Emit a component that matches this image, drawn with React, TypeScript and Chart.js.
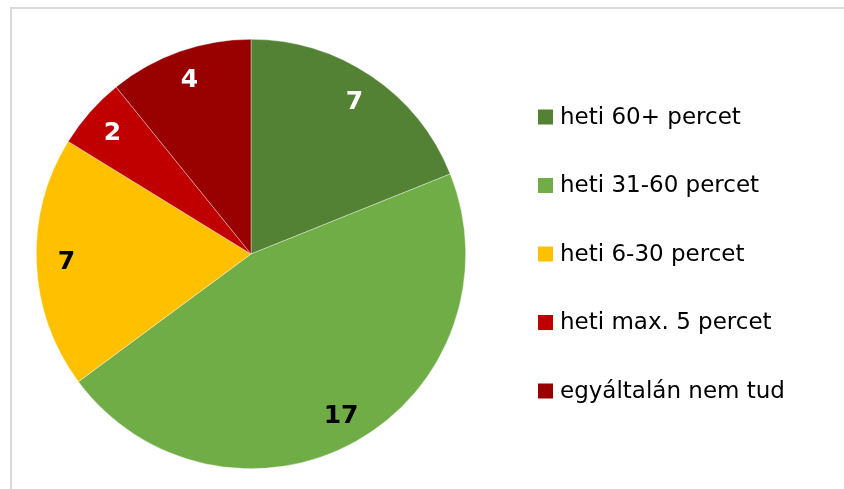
import React, { useEffect, useRef } from "react";
import { Chart, registerables } from "chart.js";

Chart.register(...registerables);

const categories = [
  "heti 60+ percet",
  "heti 31-60 percet",
  "heti 6-30 percet",
  "heti max. 5 percet",
  "egyáltalán nem tud",
];
const values = [7, 17, 7, 2, 4];
const colors = ["#548235", "#70AD47", "#FFC000", "#C00000", "#990000"];
const labelColors = ["#FFFFFF", "#000000", "#000000", "#FFFFFF", "#FFFFFF"];

const FONT = "'DejaVu Sans', Verdana, sans-serif";

const sliceLabels = {
  id: "sliceLabels",
  afterDatasetsDraw(chart: any) {
    const ctx = chart.ctx;
    const meta = chart.getDatasetMeta(0);
    ctx.save();
    ctx.font = `bold 25px ${FONT}`;
    ctx.textAlign = "center";
    ctx.textBaseline = "middle";
    meta.data.forEach((arc: any, i: number) => {
      const { x, y, startAngle, endAngle, outerRadius } = arc.getProps(
        ["x", "y", "startAngle", "endAngle", "outerRadius"],
        true
      );
      const mid = (startAngle + endAngle) / 2;
      const r = outerRadius * 0.86;
      ctx.fillStyle = labelColors[i];
      ctx.fillText(String(values[i]), x + Math.cos(mid) * r, y + Math.sin(mid) * r + 1);
    });
    ctx.restore();
  },
};

const sideLegend = {
  id: "sideLegend",
  afterDraw(chart: any) {
    const ctx = chart.ctx;
    const area = chart.chartArea;
    const x0 = 538;
    const rowGap = 68.5;
    const yCenter = (area.top + area.bottom) / 2;
    const n = categories.length;
    ctx.save();
    ctx.font = `23px ${FONT}`;
    ctx.textBaseline = "middle";
    ctx.textAlign = "left";
    categories.forEach((c, i) => {
      const cy = yCenter + (i - (n - 1) / 2) * rowGap;
      ctx.fillStyle = colors[i];
      ctx.fillRect(x0, cy - 7.5, 15, 15);
      ctx.fillStyle = "#000000";
      ctx.fillText(c, x0 + 22, cy + 1);
    });
    ctx.restore();
  },
};

export default function App() {
  const ref = useRef<HTMLCanvasElement | null>(null);
  useEffect(() => {
    const prev = document.body.style.margin;
    document.body.style.margin = "0";
    if (!ref.current) return;
    const chart = new Chart(ref.current, {
      type: "pie",
      data: {
        labels: categories,
        datasets: [
          {
            data: values,
            backgroundColor: colors,
            borderColor: "rgba(255,255,255,0.6)",
            borderWidth: 0.6,
          },
        ],
      },
      options: {
        animation: false,
        responsive: false,
        maintainAspectRatio: false,
        layout: { padding: { left: 36, right: 378, top: 39, bottom: 20 } },
        plugins: {
          legend: { display: false },
          tooltip: { enabled: false },
        },
      },
      plugins: [sliceLabels, sideLegend],
    });
    return () => {
      chart.destroy();
      document.body.style.margin = prev;
    };
  }, []);
  return (
    <div style={{ position: "relative", width: 844, height: 489, background: "#fff", overflow: "hidden" }}>
      <div
        style={{
          position: "absolute",
          left: 10,
          top: 7,
          width: 900,
          height: 600,
          borderLeft: "2px solid #d9d9d9",
          borderTop: "2px solid #d9d9d9",
          boxSizing: "border-box",
        }}
      />
      <canvas ref={ref} width={844} height={489} style={{ position: "absolute", left: 0, top: 0 }} />
    </div>
  );
}
